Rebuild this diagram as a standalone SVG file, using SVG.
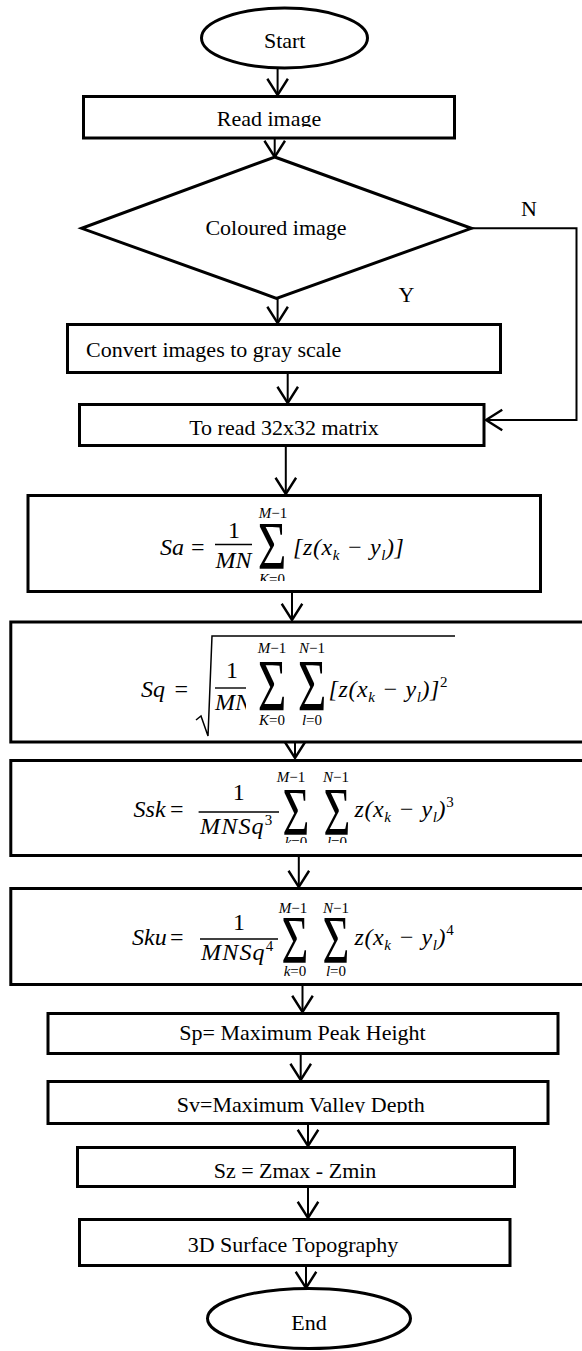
<svg xmlns="http://www.w3.org/2000/svg" width="582" height="1351" viewBox="0 0 582 1351">
<style>
.box{fill:#fff;stroke:#000;stroke-width:3}
.lbl{font-family:"Liberation Serif","Times New Roman",serif;font-size:22px;fill:#000}
.c{text-anchor:middle}
.m{font-family:"Liberation Serif","Times New Roman",serif;font-style:italic;font-size:24px;fill:#000}
.mu{font-family:"Liberation Serif","Times New Roman",serif;font-size:24px;fill:#000}
.s{font-family:"Liberation Serif","Times New Roman",serif;font-style:italic;font-size:15px;fill:#000}
.su{font-family:"Liberation Serif","Times New Roman",serif;font-style:normal;font-size:15px;fill:#000}
.sig{font-family:"Liberation Serif","Times New Roman",serif;font-size:44px;fill:#000;text-anchor:middle}
.fl{stroke:#000;stroke-width:1.4}
.con{fill:none;stroke:#000;stroke-width:2}
</style>
<defs>
<marker id="arr" markerUnits="userSpaceOnUse" markerWidth="24" markerHeight="26" viewBox="-17 -12 19 24" refX="0" refY="0" orient="auto" overflow="visible">
<path d="M-15,-9.5 L0,0 L-15,9.5" fill="none" stroke="#000" stroke-width="2.2"/>
</marker>
<clipPath id="cRead"><rect x="0" y="0" width="582" height="127"/></clipPath>
<clipPath id="cSv"><rect x="0" y="1000" width="582" height="113"/></clipPath>
<clipPath id="cSa"><rect x="0" y="480" width="582" height="101"/></clipPath>
<clipPath id="cSsk"><rect x="0" y="750" width="582" height="93"/></clipPath>
<clipPath id="cMN"><rect x="200" y="690" width="46" height="30"/></clipPath>
</defs>

<g id="connectors">
<line class="con" x1="277.6" y1="69" x2="277.6" y2="95" marker-end="url(#arr)"/>
<line class="con" x1="274.7" y1="139" x2="274.7" y2="157" marker-end="url(#arr)"/>
<line class="con" x1="277.6" y1="298" x2="277.6" y2="323" marker-end="url(#arr)"/>
<line class="con" x1="287.7" y1="374" x2="287.7" y2="403" marker-end="url(#arr)"/>
<polyline class="con" points="471,228.3 576.5,228.3 576.5,420 486,420" marker-end="url(#arr)"/>
<line class="con" x1="285.8" y1="447" x2="285.8" y2="494" marker-end="url(#arr)"/>
<line class="con" x1="292" y1="593" x2="292" y2="620" marker-end="url(#arr)"/>
<line class="con" x1="295" y1="743" x2="295" y2="758" marker-end="url(#arr)"/>
<line class="con" x1="298.8" y1="857" x2="298.8" y2="887" marker-end="url(#arr)"/>
<line class="con" x1="302.5" y1="986" x2="302.5" y2="1012" marker-end="url(#arr)"/>
<line class="con" x1="300.7" y1="1055" x2="300.7" y2="1080" marker-end="url(#arr)"/>
<line class="con" x1="308" y1="1125" x2="308" y2="1146" marker-end="url(#arr)"/>
<line class="con" x1="308" y1="1188" x2="308" y2="1218" marker-end="url(#arr)"/>
<line class="con" x1="306" y1="1267" x2="306" y2="1288" marker-end="url(#arr)"/>
<text class="lbl c" x="529" y="216">N</text>
<text class="lbl c" x="406.5" y="302">Y</text>
</g>

<g id="start">
<ellipse class="box" cx="284.5" cy="38" rx="83" ry="30"/>
<text class="lbl c" x="284.7" y="48">Start</text>
</g>

<g id="read">
<rect class="box" x="83.5" y="96.5" width="371" height="41.5"/>
<text class="lbl c" x="269" y="126.3" clip-path="url(#cRead)">Read image</text>
</g>

<g id="coloured">
<polygon class="box" points="274.7,157 471.4,228.3 276.5,298.3 81.7,228.3"/>
<text class="lbl c" x="276" y="235">Coloured image</text>
</g>

<g id="convert">
<rect class="box" x="67.5" y="324.5" width="433" height="48"/>
<text class="lbl" x="86" y="357">Convert images to gray scale</text>
</g>

<g id="matrix">
<rect class="box" x="79.5" y="404.5" width="404.5" height="41"/>
<text class="lbl c" x="284" y="435">To read 32x32 matrix</text>
</g>

<g id="sa">
<rect class="box" x="28" y="495.5" width="512.5" height="96"/>
<text class="m" x="160" y="555">Sa</text>
<text class="mu" x="191" y="555">=</text>
<text class="mu c" x="234" y="538">1</text>
<line class="fl" x1="215" y1="544.5" x2="252" y2="544.5"/>
<text class="m c" x="233.5" y="568">MN</text>
<text class="sig" transform="translate(272,568) scale(1.12,1.55)">Σ</text>
<text class="s c" x="273" y="518">M<tspan class="su">−1</tspan></text>
<text class="s c" x="272" y="584" clip-path="url(#cSa)">K<tspan class="su">=0</tspan></text>
<text class="m" x="293" y="555" letter-spacing="0.6">[z(x<tspan class="s" dy="5">k</tspan><tspan dy="-5"> − y</tspan><tspan class="s" dy="5">l</tspan><tspan dy="-5">)]</tspan></text>
</g>

<g id="sq">
<rect class="box" x="10.8" y="622" width="580" height="120"/>
<text class="m" x="141" y="697">Sq</text>
<text class="mu" x="174.5" y="697">=</text>
<path d="M196,720 L201,716 L208,736 L212,636 L455,636" fill="none" stroke="#000" stroke-width="1.5"/>
<text class="mu c" x="232" y="678">1</text>
<line class="fl" x1="215" y1="688" x2="246" y2="688"/>
<text class="m" x="215" y="710" clip-path="url(#cMN)">MN</text>
<text class="sig" transform="translate(272,711) scale(1.12,1.7)">Σ</text>
<text class="sig" transform="translate(312,711) scale(1.12,1.7)">Σ</text>
<text class="s c" x="272" y="653">M<tspan class="su">−1</tspan></text>
<text class="s c" x="312" y="653">N<tspan class="su">−1</tspan></text>
<text class="s c" x="272" y="725">K<tspan class="su">=0</tspan></text>
<text class="s c" x="312" y="725">l<tspan class="su">=0</tspan></text>
<text class="m" x="328.5" y="697" letter-spacing="0.6">[z(x<tspan class="s" dy="5">k</tspan><tspan dy="-5"> − y</tspan><tspan class="s" dy="5">l</tspan><tspan dy="-5">)]</tspan><tspan class="su" dy="-10">2</tspan></text>
</g>

<g id="ssk">
<rect class="box" x="10.8" y="760.5" width="580" height="95"/>
<text class="m" x="133.6" y="817">Ssk</text>
<text class="mu" x="170" y="817">=</text>
<text class="mu c" x="238.8" y="800">1</text>
<line class="fl" x1="198.6" y1="812" x2="279" y2="812"/>
<text class="m" x="200" y="834" letter-spacing="1.2">MNSq<tspan class="su" dy="-9">3</tspan></text>
<text class="sig" transform="translate(296,834) scale(1.05,1.55)">Σ</text>
<text class="sig" transform="translate(337,834) scale(1.05,1.55)">Σ</text>
<text class="s c" x="291" y="782">M<tspan class="su">−1</tspan></text>
<text class="s c" x="336" y="782">N<tspan class="su">−1</tspan></text>
<text class="s c" x="296" y="847" clip-path="url(#cSsk)">k<tspan class="su">=0</tspan></text>
<text class="s c" x="337" y="847" clip-path="url(#cSsk)">l<tspan class="su">=0</tspan></text>
<text class="m" x="354.5" y="817" letter-spacing="0.6">z(x<tspan class="s" dy="5">k</tspan><tspan dy="-5"> − y</tspan><tspan class="s" dy="5">l</tspan><tspan dy="-5">)</tspan><tspan class="su" dy="-10">3</tspan></text>
</g>

<g id="sku">
<rect class="box" x="10.8" y="888.5" width="580" height="96"/>
<text class="m" x="132" y="945">Sku</text>
<text class="mu" x="170" y="945">=</text>
<text class="mu c" x="239" y="930">1</text>
<line class="fl" x1="200" y1="939" x2="278" y2="939"/>
<text class="m" x="201" y="960" letter-spacing="1.2">MNSq<tspan class="su" dy="-9">4</tspan></text>
<text class="sig" transform="translate(295,962) scale(1.05,1.55)">Σ</text>
<text class="sig" transform="translate(336,962) scale(1.05,1.55)">Σ</text>
<text class="s c" x="293" y="913">M<tspan class="su">−1</tspan></text>
<text class="s c" x="336" y="913">N<tspan class="su">−1</tspan></text>
<text class="s c" x="295" y="976">k<tspan class="su">=0</tspan></text>
<text class="s c" x="336" y="976">l<tspan class="su">=0</tspan></text>
<text class="m" x="354.5" y="945" letter-spacing="0.6">z(x<tspan class="s" dy="5">k</tspan><tspan dy="-5"> − y</tspan><tspan class="s" dy="5">l</tspan><tspan dy="-5">)</tspan><tspan class="su" dy="-10">4</tspan></text>
</g>

<g id="sp">
<rect class="box" x="48" y="1013.5" width="510" height="40"/>
<text class="lbl c" x="302.5" y="1040">Sp= Maximum Peak Height</text>
</g>

<g id="sv">
<rect class="box" x="48" y="1081.5" width="500" height="42"/>
<text class="lbl c" x="300.7" y="1112" clip-path="url(#cSv)">Sv=Maximum Valley Depth</text>
</g>

<g id="sz">
<rect class="box" x="77.5" y="1147.5" width="437" height="39"/>
<text class="lbl c" x="295" y="1177.6">Sz = Zmax - Zmin</text>
</g>

<g id="topo">
<rect class="box" x="79.5" y="1219.5" width="430.5" height="46"/>
<text class="lbl c" x="293" y="1252">3D Surface Topography</text>
</g>

<g id="end">
<ellipse class="box" cx="309" cy="1318.5" rx="101.5" ry="30"/>
<text class="lbl c" x="309" y="1330">End</text>
</g>
</svg>
